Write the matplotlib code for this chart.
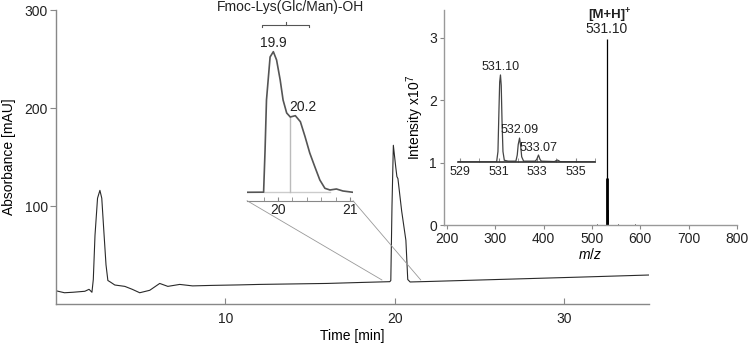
import matplotlib
matplotlib.use('Agg')
import matplotlib.pyplot as plt
from matplotlib.patches import ConnectionPatch

plt.rcParams['font.family'] = ['Liberation Sans', 'DejaVu Sans']
plt.rcParams['mathtext.fontset'] = 'custom'
plt.rcParams['mathtext.rm'] = 'Liberation Sans'
plt.rcParams['mathtext.it'] = 'Liberation Sans:italic'
plt.rcParams['mathtext.bf'] = 'Liberation Sans:bold'
plt.rcParams['font.size'] = 10
plt.rcParams['text.color'] = '#222222'
plt.rcParams['xtick.color'] = '#888888'
plt.rcParams['ytick.color'] = '#888888'
plt.rcParams['xtick.labelcolor'] = '#222222'
plt.rcParams['ytick.labelcolor'] = '#222222'

# HPLC trace (time in min, absorbance in mAU)
time = [0, 0.5, 1.0, 1.7, 1.95, 2.12, 2.2, 2.3, 2.45, 2.59, 2.7, 2.82, 2.95, 3.06,
        3.2, 3.47, 4.06, 4.5, 4.94, 5.53, 6.12, 6.6, 7.3, 8.06, 9.2, 10.8, 12, 14,
        16, 18, 19.7, 19.76, 19.83, 19.91, 20.05, 20.12, 20.18, 20.4, 20.65, 20.76,
        20.9, 22, 25, 28, 31, 35]
absorb = [13.5, 11.5, 12, 13, 15, 12, 25, 70, 108, 116, 108, 75, 40, 24,
          22.5, 19.4, 18, 15, 11.5, 14, 21, 18, 20, 18.5, 19, 19.5, 20, 20.5,
          21, 22, 22.8, 24, 100, 162, 140, 130, 128, 95, 65, 25,
          22.5, 23, 24.5, 26, 27.5, 29.6]

# zoomed peak 19.9 / 20.2
zoom_t = [19.57, 19.80, 19.82, 19.84, 19.89, 19.935, 19.98, 20.03, 20.07, 20.12,
          20.17, 20.24, 20.31, 20.375, 20.44, 20.51, 20.58, 20.65, 20.72, 20.81,
          20.9, 21.04]
zoom_a = [22.4, 22.5, 64, 114.7, 157.7, 163, 154.7, 134.7, 114.7, 101.7,
          97.7, 99, 93, 78, 61.7, 48, 34.7, 26.4, 24.7, 25.7,
          23.7, 22.4]

# MS spectrum (m/z, intensity x10^7)
ms_mz = [510.5, 531.10, 532.09, 533.07, 553.0, 589.0]
ms_int = [0.02, 2.98, 0.76, 0.24, 0.02, 0.015]
ms_lw = [0.7, 0.9, 2.0, 1.2, 0.7, 0.7]

# MS isotope pattern zoom (relative intensity)
iso_mz = [528.9, 530.9, 530.97, 531.02, 531.06, 531.10, 531.14, 531.18, 531.23,
          531.3, 531.5, 531.9, 531.97, 532.02, 532.09, 532.15, 532.2, 532.3,
          532.9, 532.98, 533.07, 533.15, 533.22, 533.9, 533.98, 534.05, 534.12,
          534.2, 536.0]
iso_int = [0, 0, 12, 58, 92, 100, 88, 48, 12,
           2, 1, 1, 8, 20, 27.5, 18, 6, 1,
           1, 3, 8, 3, 1, 0.5, 1.5, 2.3, 1.5,
           0.3, 0]

fig = plt.figure(figsize=(7.49, 3.45), dpi=100)

# main chromatogram
ax = fig.add_axes([0.0748, 0.1188, 0.7917, 0.852])
ax.plot(time, absorb, color='#2a2a2a', lw=0.8)
ax.set_xlim(0, 35)
ax.set_ylim(0, 300)
ax.set_xticks([10, 20, 30])
ax.set_yticks([100, 200, 300])
for s in ['top', 'right']:
    ax.spines[s].set_visible(False)
for s in ['left', 'bottom']:
    ax.spines[s].set_color('#888888')
    ax.spines[s].set_linewidth(1.0)
ax.tick_params(axis='x', direction='in', length=4, pad=6)
ax.tick_params(axis='y', direction='out', length=4, pad=2)
ax.set_xlabel('Time [min]', labelpad=2)
ax.set_ylabel('Absorbance [mAU]', labelpad=6)

# zoomed HPLC inset
axi = fig.add_axes([0.3298, 0.4183, 0.1415, 0.4513])
axi.patch.set_alpha(0)
axi.plot(zoom_t, zoom_a, color='#555555', lw=1.2)
axi.plot([19.80, 20.72], [22.4, 22.4], color='#cccccc', lw=1.0, zorder=1)
axi.plot([20.17, 20.17], [22.4, 97.7], color='#bbbbbb', lw=1.0, zorder=1)
axi.set_xlim(19.57, 21.04)
axi.set_ylim(14, 169.7)
for s in ['top', 'right', 'left']:
    axi.spines[s].set_visible(False)
axi.spines['bottom'].set_color('#888888')
axi.set_yticks([])
axi.set_xticks([20, 21])
axi.set_xticks([19.8, 20.2, 20.4, 20.6, 20.8], minor=True)
axi.tick_params(axis='x', which='both', direction='in', length=3, pad=2)
axi.text(19.935, 171.5, '19.9', ha='center', va='center', fontsize=10)
axi.text(20.35, 107.7, '20.2', ha='center', va='center', fontsize=10)
# bracket + compound name
axi.plot([19.78, 19.78, 20.43, 20.43], [187.2, 189.7, 189.7, 187.2],
         color='#555555', lw=0.8, clip_on=False)
axi.plot([20.11, 20.11], [189.7, 192.7], color='#555555', lw=0.8, clip_on=False)
axi.text(20.17, 207.5, 'Fmoc-Lys(Glc/Man)-OH', ha='center', va='center', fontsize=10)

for xa, xb in [((0, 0), (19.24, 24.5)), ((1, 0), (21.53, 24.5))]:
    cp = ConnectionPatch(xyA=xa, coordsA=axi.transAxes, xyB=xb, coordsB=ax.transData,
                         color='#999999', lw=0.6)
    fig.add_artist(cp)

# MS inset
axm = fig.add_axes([0.5928, 0.3478, 0.3912, 0.6232])
axm.patch.set_alpha(0)
for mz, inten, w in zip(ms_mz, ms_int, ms_lw):
    axm.plot([mz, mz], [0, inten], color='black', lw=w, solid_capstyle='butt')
axm.set_xlim(193.8, 800.4)
axm.set_ylim(0, 3.44)
axm.set_xticks([200, 300, 400, 500, 600, 700, 800])
axm.set_yticks([0, 1, 2, 3])
for s in ['top', 'right']:
    axm.spines[s].set_visible(False)
for s in ['left', 'bottom']:
    axm.spines[s].set_color('#999999')
    axm.spines[s].set_linewidth(1.0)
axm.tick_params(axis='both', direction='out', length=3, pad=2)
axm.set_xlabel('$m/z$', labelpad=1)
axm.set_ylabel('Intensity x10$^7$', labelpad=2)
axm.text(531.1, 3.13, '531.10', ha='center', va='center', fontsize=10)
axm.text(531.1, 3.36, '[M+H]', ha='center', va='center', fontsize=9.5,
         fontweight='bold')
axm.annotate('+', xy=(531.1, 3.36), xytext=(13, 3), textcoords='offset points',
             ha='left', va='center', fontsize=6.5, fontweight='bold')

# isotope zoom
axz = fig.add_axes([0.6115, 0.5304, 0.1829, 0.2783])
axz.patch.set_alpha(0)
axz.plot(iso_mz, iso_int, color='#444444', lw=0.9)
axz.set_xlim(528.9, 536.0)
axz.set_ylim(0, 110.3)
for s in ['top', 'right', 'left']:
    axz.spines[s].set_visible(False)
axz.spines['bottom'].set_color('#333333')
axz.spines['bottom'].set_linewidth(1.2)
axz.set_yticks([])
axz.set_xticks([529, 531, 533, 535])
axz.set_xticks([530, 532, 534, 536], minor=True)
axz.tick_params(axis='x', which='both', direction='in', length=3, pad=3,
                labelsize=9)
axz.text(531.10, 109, '531.10', ha='center', va='center', fontsize=9)
axz.text(532.09, 37, '532.09', ha='center', va='center', fontsize=9)
axz.text(533.07, 16, '533.07', ha='center', va='center', fontsize=9)

plt.savefig('out.png', dpi=100)
